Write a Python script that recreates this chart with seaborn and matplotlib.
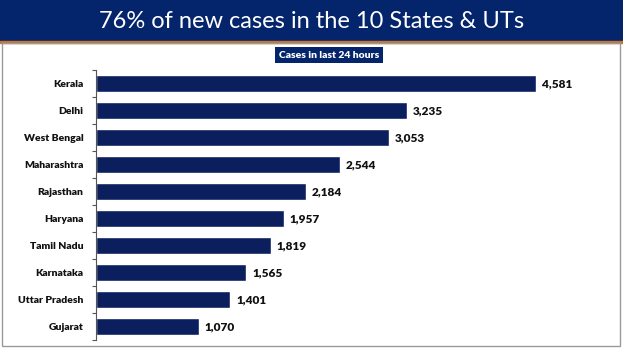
import matplotlib
matplotlib.use("Agg")
import matplotlib.pyplot as plt
import matplotlib.patches as patches
import seaborn as sns
import pandas as pd

states = ["Kerala", "Delhi", "West Bengal", "Maharashtra", "Rajasthan",
          "Haryana", "Tamil Nadu", "Karnataka", "Uttar Pradesh", "Gujarat"]
cases = [4581, 3235, 3053, 2544, 2184, 1957, 1819, 1565, 1401, 1070]

title = "76% of new cases in the 10 States & UTs"
subtitle = "Cases in last 24 hours"

navy = "#0b1f5e"
header = "#04256b"

sns.set_theme(style="white")
plt.rcParams["font.family"] = ["Lato", "DejaVu Sans"]

df = pd.DataFrame({"state": states, "cases": cases})

fig = plt.figure(figsize=(6.23, 3.51), dpi=100)
W, H = 623, 351

# header band + thin orange rule
fig.patches.append(patches.Rectangle((0, 1 - 41 / H), 1, 41 / H, transform=fig.transFigure,
                                     color=header, zorder=0))
fig.patches.append(patches.Rectangle((0, 1 - 42.5 / H), 1, 1.5 / H, transform=fig.transFigure,
                                     color="#c8742c", zorder=0))
# light frame around the chart panel
fig.patches.append(patches.Rectangle((2.5 / W, 5 / H), 617 / W, (H - 47.5) / H, transform=fig.transFigure,
                                     fill=False, edgecolor="#9a9a9a", linewidth=1.0, zorder=0))

fig.text(0.5, 1 - 21 / H, title, color="white", fontsize=17, ha="center", va="center")
fig.text(329 / W, 1 - 55 / H, subtitle, color="white", fontsize=7.5, fontweight="heavy",
         ha="center", va="center",
         bbox=dict(boxstyle="square,pad=0.35", facecolor=header, edgecolor="none"))

ax = fig.add_axes([96 / W, 11 / H, 480 / W, 270 / H])
sns.barplot(data=df, x="cases", y="state", orient="h", color=navy, width=0.6,
            saturation=1, ax=ax)

for i, v in enumerate(cases):
    ax.text(v + 60, i, f"{v:,}", va="center", ha="left", fontsize=8.5, fontweight="heavy",
            color="#111111")

ax.set_xlim(0, 5000)
ax.set_ylim(9.5, -0.5)
ax.set_xlabel("")
ax.set_ylabel("")
ax.set_xticks([])
for s in ["top", "right", "bottom"]:
    ax.spines[s].set_visible(False)
ax.spines["left"].set_color("#555555")
ax.spines["left"].set_linewidth(0.8)

ax.set_yticks(range(len(states)))
ax.set_yticklabels(states, fontsize=7.5, fontweight="heavy", color="#111111")
ax.tick_params(axis="y", length=0, pad=9)
# small ticks between the categories
ax.set_yticks([i - 0.5 for i in range(len(states) + 1)], minor=True)
ax.tick_params(axis="y", which="minor", length=3, width=0.8, color="#555555", direction="out", left=True)

fig.savefig("out.png", dpi=100)
